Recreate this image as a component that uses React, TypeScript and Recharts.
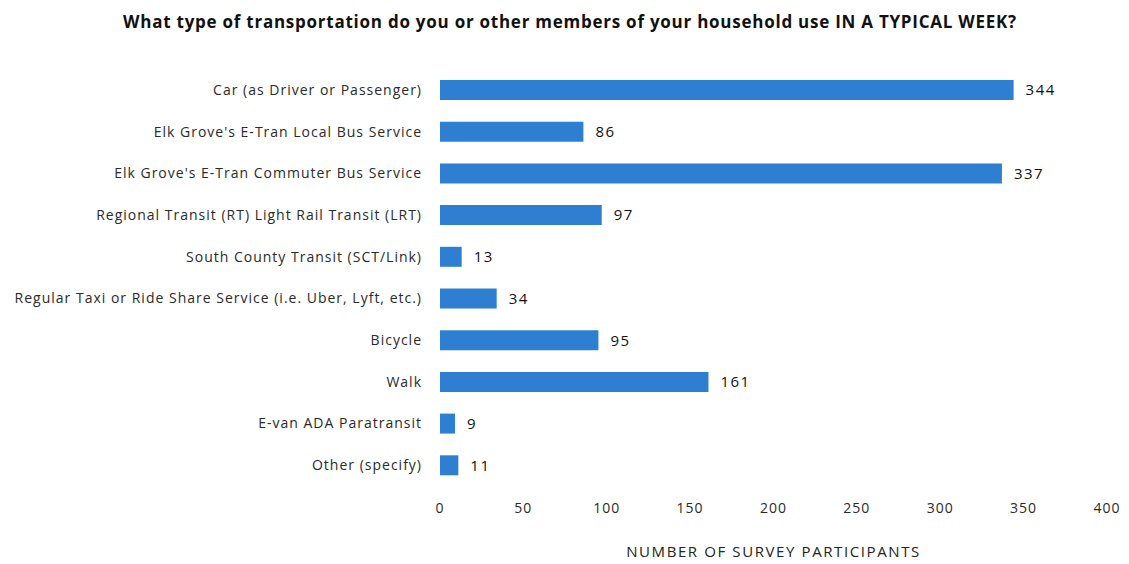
import React from "react";
import { BarChart, Bar, XAxis, YAxis, LabelList } from "recharts";

const categories = [
  "Car (as Driver or Passenger)",
  "Elk Grove's E-Tran Local Bus Service",
  "Elk Grove's E-Tran Commuter Bus Service",
  "Regional Transit (RT) Light Rail Transit (LRT)",
  "South County Transit (SCT/Link)",
  "Regular Taxi or Ride Share Service (i.e. Uber, Lyft, etc.)",
  "Bicycle",
  "Walk",
  "E-van ADA Paratransit",
  "Other (specify)",
];

const participants = [344, 86, 337, 97, 13, 34, 95, 161, 9, 11];

const xTicks = [0, 50, 100, 150, 200, 250, 300, 350, 400];

const data = categories.map((name, i) => ({ name, value: participants[i] }));

const font = "'Open Sans', 'Liberation Sans', sans-serif";

export default function App() {
  return (
    <div style={{ position: "absolute", left: 0, top: 0, width: 1129, height: 564, background: "#fff", fontFamily: font }}>
      <div
        style={{
          position: "absolute",
          top: 10,
          left: 0,
          width: 1140,
          textAlign: "center",
          fontSize: 17,
          fontWeight: 700,
          letterSpacing: 0.75,
          color: "#111",
        }}
      >
        What type of transportation do you or other members of your household use IN A TYPICAL WEEK?
      </div>
      <BarChart
        width={1129}
        height={564}
        data={data}
        layout="vertical"
        margin={{ top: 69, right: 22, bottom: 0, left: 0 }}
        barSize={20}
      >
        <XAxis
          type="number"
          domain={[0, 400]}
          ticks={xTicks}
          axisLine={false}
          tickLine={false}
          tickMargin={11}
          height={78}
          tick={{ fontSize: 14, fill: "#2a2a2a", fontFamily: font, letterSpacing: 1 }}
          label={{
            value: "NUMBER OF SURVEY PARTICIPANTS",
            position: "insideBottom",
            offset: 7,
            style: { fontSize: 15, fill: "#222", fontFamily: font, letterSpacing: 1.6 },
          }}
        />
        <YAxis
          type="category"
          dataKey="name"
          width={440}
          axisLine={false}
          tickLine={false}
          tickMargin={12}
          interval={0}
          tick={{ fontSize: 14, fill: "#2a2a2a", fontFamily: font, letterSpacing: 1 }}
        />
        <Bar dataKey="value" fill="#2e7fd2" isAnimationActive={false}>
          <LabelList
            dataKey="value"
            position="right"
            offset={12}
            style={{ fontSize: 15, fill: "#111", fontFamily: font, letterSpacing: 1.5 }}
          />
        </Bar>
      </BarChart>
    </div>
  );
}
